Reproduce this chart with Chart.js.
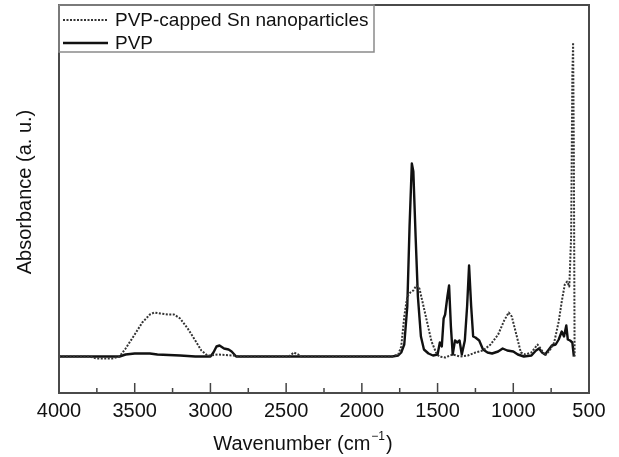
<!DOCTYPE html>
<html><head><meta charset="utf-8">
<script src="https://cdn.jsdelivr.net/npm/chart.js@4"></script>
<style>html,body{margin:0;padding:0;background:#fff}</style>
</head><body>
<canvas id="c" width="619" height="457"></canvas>
<script>
// ---- data ----
const seriesLabels = ["PVP-capped Sn nanoparticles", "PVP"];
const xTitle = "Wavenumber (cm";
const xTitleSup = "\u22121";
const yTitle = "Absorbance (a. u.)";
const xTickValues = [4000, 3500, 3000, 2500, 2000, 1500, 1000, 500];
const minorTickValues = [3750, 3250, 2750, 2250, 1750, 1250, 750];

const snWavenumber = [4000, 3800, 3750, 3650, 3600, 3560, 3500, 3450, 3400, 3370, 3330, 3280, 3240, 3200, 3150, 3100, 3060, 3020, 3000, 2950, 2850, 2800, 2480, 2450, 2420, 2400, 1800, 1760, 1740, 1720, 1700, 1680, 1660, 1640, 1620, 1600, 1570, 1540, 1510, 1490, 1450, 1400, 1350, 1300, 1250, 1200, 1150, 1100, 1060, 1030, 1010, 980, 950, 920, 880, 840, 820, 790, 760, 730, 700, 680, 660, 645, 630, 618, 610, 605, 600, 595];
const snAbsorbance  = [0, 0, -2, -2, 0, 8, 22, 34, 42, 44, 43, 42, 42, 38, 28, 16, 6, 1, 1, 2, 1, 0, 0, 4, 2, 0, 0, 2, 10, 40, 60, 64, 66, 71, 68, 55, 35, 15, 4, 0, -1, 2, 0, 1, 4, 6, 12, 22, 36, 44, 40, 22, 4, 2, 4, 12, 8, 1, 6, 14, 35, 55, 72, 75, 70, 120, 280, 314, 200, 0];

const pvpWavenumber = [4000, 3600, 3560, 3500, 3400, 3350, 3200, 3100, 3000, 2980, 2960, 2940, 2910, 2880, 2860, 2830, 1800, 1760, 1740, 1720, 1700, 1685, 1670, 1660, 1645, 1630, 1610, 1590, 1560, 1530, 1500, 1485, 1472, 1460, 1450, 1435, 1424, 1412, 1400, 1385, 1370, 1355, 1340, 1320, 1305, 1292, 1278, 1265, 1250, 1225, 1200, 1170, 1140, 1100, 1070, 1040, 1000, 970, 930, 880, 850, 830, 810, 790, 760, 745, 720, 700, 680, 665, 650, 640, 625, 610, 600];
const pvpAbsorbance  = [0, 0, 2, 3, 3, 2, 1, 0, 0, 4, 10, 11, 8, 7, 5, 0, 0, 1, 4, 12, 50, 130, 193, 185, 120, 60, 20, 7, 3, 1, 2, 14, 10, 38, 42, 60, 71, 30, 2, 16, 14, 16, 2, 16, 50, 91, 50, 20, 19, 16, 7, 4, 3, 5, 8, 6, 5, 2, 0, 1, 6, 8, 4, 2, 8, 11, 12, 17, 25, 20, 31, 17, 16, 14, 0];

const FONT = "'Liberation Sans', Arial, sans-serif";

function pts(xs, ys) { return xs.map((x, i) => ({x: x, y: ys[i]})); }

const decorPlugin = {
  id: 'decor',
  afterDatasetsDraw(chart) {
    const ctx = chart.ctx, a = chart.chartArea, xs = chart.scales.x;
    ctx.save();
    // inward tick marks on bottom axis
    ctx.strokeStyle = '#444'; ctx.lineWidth = 1.5;
    xTickValues.forEach(v => { const px = xs.getPixelForValue(v); ctx.beginPath(); ctx.moveTo(px, a.bottom); ctx.lineTo(px, a.bottom - 10); ctx.stroke(); });
    minorTickValues.forEach(v => { const px = xs.getPixelForValue(v); ctx.beginPath(); ctx.moveTo(px, a.bottom); ctx.lineTo(px, a.bottom - 5); ctx.stroke(); });
    // frame
    ctx.strokeStyle = '#4a4a4a'; ctx.lineWidth = 2;
    ctx.strokeRect(a.left, a.top, a.right - a.left, a.bottom - a.top);
    // legend
    const lx = a.left, ly = a.top, lw = 315, lh = 47;
    ctx.fillStyle = '#fff'; ctx.fillRect(lx + 1, ly + 1, lw - 1, lh - 1);
    ctx.strokeStyle = '#8a8a8a'; ctx.lineWidth = 1.5;
    ctx.strokeRect(lx, ly, lw, lh);
    const rows = [15, 38];
    chart.data.datasets.forEach((ds, i) => {
      ctx.save();
      ctx.strokeStyle = ds.borderColor; ctx.lineWidth = ds.borderWidth;
      ctx.setLineDash(ds.borderDash || []);
      ctx.beginPath(); ctx.moveTo(lx + 4, ly + rows[i]); ctx.lineTo(lx + 49, ly + rows[i]); ctx.stroke();
      ctx.restore();
      ctx.fillStyle = '#111'; ctx.font = '19px ' + FONT; ctx.textBaseline = 'middle'; ctx.textAlign = 'left';
      ctx.fillText(ds.label, lx + 56, ly + rows[i] + 1);
    });
    // x title with superscript
    ctx.fillStyle = '#111'; ctx.textBaseline = 'alphabetic'; ctx.textAlign = 'left';
    ctx.font = '20px ' + FONT;
    const w1 = ctx.measureText(xTitle).width;
    ctx.font = '12px ' + FONT;
    const w2 = ctx.measureText(xTitleSup).width;
    ctx.font = '20px ' + FONT;
    const w3 = ctx.measureText(')').width;
    let x0 = 302 - (w1 + w2 + w3) / 2; const by = 450;
    ctx.fillText(xTitle, x0, by);
    ctx.font = '12px ' + FONT; ctx.fillText(xTitleSup, x0 + w1 + 1, by - 10);
    ctx.font = '20px ' + FONT; ctx.fillText(')', x0 + w1 + w2 + 2, by);
    // y title
    ctx.save();
    ctx.translate(25, 192); ctx.rotate(-Math.PI / 2);
    ctx.textAlign = 'center'; ctx.textBaseline = 'middle';
    ctx.fillText(yTitle, 0, 0);
    ctx.restore();
    ctx.restore();
  }
};

new Chart(document.getElementById('c'), {
  type: 'line',
  data: {
    datasets: [
      { label: seriesLabels[0], data: pts(snWavenumber, snAbsorbance), borderColor: '#333', borderWidth: 2, borderDash: [2, 1.5], borderJoinStyle: 'round', pointRadius: 0, fill: false, tension: 0 },
      { label: seriesLabels[1], data: pts(pvpWavenumber, pvpAbsorbance), borderColor: '#111', borderWidth: 2.4, borderJoinStyle: 'round', pointRadius: 0, fill: false, tension: 0 }
    ]
  },
  options: {
    responsive: false, animation: false, devicePixelRatio: 1,
    layout: { padding: { left: 59, top: 5, right: 30, bottom: 0 } },
    plugins: { legend: { display: false }, tooltip: { enabled: false } },
    scales: {
      x: {
        type: 'linear', min: 500, max: 4000, reverse: true,
        afterFit(s) { s.height = 64; },
        afterBuildTicks(s) { s.ticks = xTickValues.map(v => ({ value: v })); },
        grid: { display: false, drawTicks: false },
        border: { display: false },
        ticks: { color: '#111', font: { size: 20, family: FONT }, padding: 6, maxRotation: 0, autoSkip: false, callback: v => String(v) }
      },
      y: { display: false, min: -36.5, max: 351.5 }
    }
  },
  plugins: [decorPlugin]
});
</script>
</body></html>
